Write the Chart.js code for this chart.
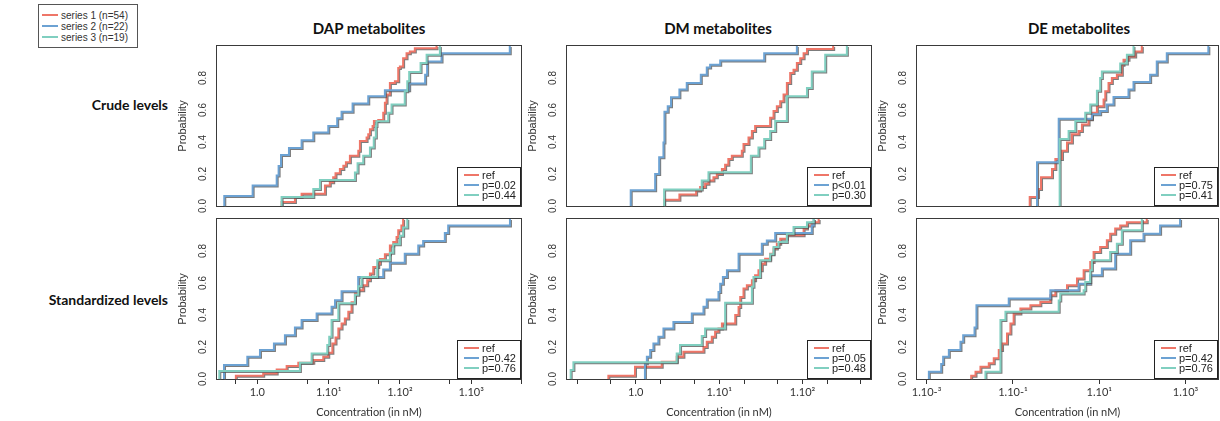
<!DOCTYPE html>
<html><head><meta charset="utf-8">
<script src="https://cdn.jsdelivr.net/npm/chart.js@4/dist/chart.umd.min.js"></script>
<style>
html,body{margin:0;padding:0;background:#fff}
body{width:1220px;height:421px;overflow:hidden;position:relative;font-family:Lato,sans-serif;color:#111}
.title{position:absolute;font-weight:bold;font-size:15px;line-height:16px;transform:translateX(-50%);white-space:nowrap}
.rowlab{position:absolute;left:0;width:168px;text-align:right;font-weight:bold;font-size:14px;line-height:16px;white-space:nowrap}
#topLegend{position:absolute;left:38px;top:4px;width:98px;height:42px;border:1px solid #555;font-family:"Liberation Sans",Arial,sans-serif;font-size:10px;color:#333}
#topLegend .row{position:absolute;left:3px;height:11px;line-height:11px;white-space:nowrap}
#topLegend .sw{display:inline-block;width:16px;height:2px;vertical-align:middle;margin-right:3px;position:relative;top:-1px}
canvas{position:absolute}
</style></head><body>
<div id="topLegend"></div>
<script>
// ---------- text ----------
const columnTitles = ['DAP metabolites', 'DM metabolites', 'DE metabolites'];
const rowLabels = ['Crude levels', 'Standardized levels'];
const seriesNames = ['series 1 (n=54)', 'series 2 (n=22)', 'series 3 (n=19)'];
const yAxisTitle = 'Probability';
const xAxisTitle = 'Concentration (in nM)';
const yTickValues = [0, 0.2, 0.4, 0.6, 0.8];
const yTickLabels = ['0.0', '0.2', '0.4', '0.6', '0.8'];

// ---------- x tick values / labels per column ----------
const dapTickValues = [0.5, 1, 5, 10, 50, 100, 500, 1000, 5000];
const dapTickLabels = ['', '1.0', '', '1.10¹', '', '1.10²', '', '1.10³', ''];
const dmTickValues = [0.2, 0.5, 1, 2, 5, 10, 20, 50, 100, 200, 500];
const dmTickLabels = ['', '', '1.0', '', '', '1.10¹', '', '', '1.10²', '', ''];
const deTickValues = [0.001, 0.1, 10, 1000];
const deTickLabels = ['1.10-³', '1.10-¹', '1.10¹', '1.10³'];

// ---------- in-panel legends ----------
const dapCrudeLegend = ['ref', 'p=0.02', 'p=0.44'];
const dmCrudeLegend = ['ref', 'p<0.01', 'p=0.30'];
const deCrudeLegend = ['ref', 'p=0.75', 'p=0.41'];
const dapStdLegend = ['ref', 'p=0.42', 'p=0.76'];
const dmStdLegend = ['ref', 'p=0.05', 'p=0.48'];
const deStdLegend = ['ref', 'p=0.42', 'p=0.76'];

// ---------- ECDF data (concentration in nM, cumulative probability after the step) ----------
// DAP crude
const dapCrudeRefX = [2.19, 3.37, 4.18, 8.89, 10.4, 11.6, 12.5, 14.4, 16.1, 17.5, 19.9, 26.1, 27.5, 34.1, 36.0, 38.0, 41.4, 43.2, 49.7, 58.4, 61.6, 65.0, 72.4, 85.1, 94.8, 100, 111, 124, 138, 162, 327];
const dapCrudeRefY = [0.025, 0.056, 0.076, 0.128, 0.149, 0.18, 0.205, 0.232, 0.252, 0.273, 0.314, 0.345, 0.407, 0.428, 0.449, 0.48, 0.50, 0.531, 0.537, 0.583, 0.645, 0.697, 0.769, 0.779, 0.862, 0.872, 0.924, 0.955, 0.965, 0.986, 1.0];
const dapCrudeS2X = [0.344, 0.86, 1.87, 1.99, 2.15, 2.78, 4.18, 6.1, 9.9, 13.2, 15.2, 21.7, 36, 61.6, 135, 226, 241, 384, 3480];
const dapCrudeS2Y = [0.062, 0.128, 0.19, 0.25, 0.318, 0.362, 0.411, 0.459, 0.50, 0.548, 0.589, 0.641, 0.686, 0.724, 0.765, 0.82, 0.903, 0.955, 1.0];
const dapCrudeS3X = [2.19, 6.1, 7.56, 23.4, 25.5, 30.6, 38, 43, 46, 47, 68.6, 76.4, 117, 127, 135, 195, 237, 364];
const dapCrudeS3Y = [0.056, 0.107, 0.163, 0.21, 0.267, 0.314, 0.366, 0.428, 0.50, 0.53, 0.583, 0.635, 0.717, 0.78, 0.837, 0.893, 0.945, 1.0];
// DAP standardized
const dapStdRefX = [0.50, 1.21, 1.87, 2.58, 3.76, 6.1, 8.42, 9.89, 11.3, 12.5, 13.7, 15.2, 16.9, 18.9, 21.0, 23.4, 26.1, 30.6, 34.8, 38.0, 42.3, 49.7, 52.5, 61.6, 72.4, 80.7, 89.8, 94.8, 105, 111];
const dapStdRefY = [0.021, 0.035, 0.06, 0.081, 0.102, 0.118, 0.139, 0.164, 0.222, 0.26, 0.316, 0.347, 0.378, 0.42, 0.48, 0.534, 0.555, 0.586, 0.617, 0.659, 0.70, 0.72, 0.75, 0.78, 0.835, 0.856, 0.887, 0.929, 0.96, 1.0];
const dapStdS2X = [0.341, 0.724, 1.09, 1.71, 2.44, 3.37, 4.18, 6.79, 11.0, 12.3, 15.2, 26.0, 58.4, 72.4, 117, 181, 212, 427, 476, 3500];
const dapStdS2Y = [0.087, 0.139, 0.181, 0.222, 0.274, 0.322, 0.368, 0.409, 0.451, 0.492, 0.549, 0.638, 0.684, 0.727, 0.783, 0.835, 0.862, 0.912, 0.96, 1.0];
const dapStdS3X = [0.293, 3.96, 5.78, 9.58, 10.2, 11.0, 13.7, 23.4, 26.1, 29.0, 48.1, 72.4, 80.7, 100, 111, 127];
const dapStdS3Y = [0.05, 0.102, 0.16, 0.212, 0.264, 0.368, 0.474, 0.526, 0.579, 0.638, 0.742, 0.789, 0.842, 0.895, 0.947, 1.0];
// DM crude
const dmCrudeRefX = [2.19, 3.34, 5.30, 5.92, 6.79, 7.45, 8.55, 9.38, 10.8, 11.8, 12.9, 14.2, 18.7, 19.6, 22.5, 24.7, 27.0, 40.9, 44.9, 49.2, 54.0, 59.2, 64.9, 71.1, 78.0, 85.5, 93.8, 103, 113, 233];
const dmCrudeRefY = [0.039, 0.072, 0.097, 0.118, 0.139, 0.159, 0.18, 0.2, 0.232, 0.258, 0.294, 0.314, 0.345, 0.387, 0.428, 0.469, 0.50, 0.552, 0.593, 0.624, 0.655, 0.697, 0.769, 0.831, 0.852, 0.893, 0.924, 0.955, 0.982, 1.0];
const dmCrudeS2X = [0.871, 1.71, 1.91, 2.15, 2.21, 2.42, 2.65, 3.34, 4.09, 6.03, 7.11, 7.8, 10.3, 34.7, 85.5];
const dmCrudeS2Y = [0.099, 0.2, 0.304, 0.397, 0.589, 0.624, 0.68, 0.728, 0.769, 0.82, 0.866, 0.883, 0.91, 0.955, 1.0];
const dmCrudeS3X = [2.19, 6.19, 7.45, 24.0, 29.6, 34.7, 40.9, 47.0, 64.9, 113, 129, 187, 340];
const dmCrudeS3Y = [0.103, 0.159, 0.211, 0.314, 0.366, 0.418, 0.469, 0.531, 0.686, 0.738, 0.841, 0.945, 1.0];
// DM standardized
const dmStdRefX = [0.47, 0.98, 2.05, 3.10, 3.73, 6.49, 7.11, 8.17, 8.95, 9.82, 10.8, 15.6, 17.1, 17.9, 19.6, 21.5, 24.7, 27.0, 29.6, 32.5, 35.6, 40.9, 44.9, 49.2, 54.0, 64.9, 103, 113, 129, 156];
const dmStdRefY = [0.021, 0.077, 0.108, 0.139, 0.17, 0.2, 0.233, 0.264, 0.295, 0.316, 0.347, 0.40, 0.45, 0.513, 0.565, 0.586, 0.617, 0.648, 0.68, 0.72, 0.752, 0.783, 0.815, 0.846, 0.877, 0.898, 0.94, 0.96, 0.98, 1.0];
const dmStdS2X = [1.29, 1.36, 1.49, 1.63, 1.87, 2.15, 2.83, 4.70, 6.49, 7.11, 9.82, 10.3, 11.1, 12.4, 17.1, 32.5, 37.3, 47.0, 129, 136];
const dmStdS2Y = [0.098, 0.139, 0.181, 0.222, 0.264, 0.316, 0.357, 0.409, 0.451, 0.497, 0.544, 0.596, 0.638, 0.679, 0.783, 0.846, 0.866, 0.912, 0.96, 1.0];
const dmStdS3X = [0.166, 0.179, 3.10, 3.40, 6.19, 6.79, 11.8, 24.7, 25.8, 31.0, 40.9, 44.9, 51.5, 64.9, 78.0, 113, 136];
const dmStdS3Y = [0.056, 0.104, 0.16, 0.212, 0.268, 0.316, 0.476, 0.576, 0.638, 0.742, 0.78, 0.825, 0.856, 0.908, 0.95, 0.98, 1.0];
// DE crude
const deCrudeRefX = [0.245, 0.382, 0.448, 0.805, 0.962, 1.37, 1.79, 2.33, 3.33, 3.97, 5.66, 6.76, 8.83, 12.6, 13.8, 16.4, 19.6, 25.6, 33.4, 36.5, 47.6, 68, 96.8];
const deCrudeRefY = [0.056, 0.107, 0.18, 0.232, 0.294, 0.345, 0.397, 0.449, 0.469, 0.51, 0.542, 0.583, 0.624, 0.666, 0.717, 0.769, 0.80, 0.82, 0.883, 0.914, 0.934, 0.965, 1.0];
const deCrudeS2X = [0.362, 1.15, 6.76, 10.5, 15.0, 21.4, 47.6, 62.2, 151, 215, 367, 3370];
const deCrudeS2Y = [0.273, 0.546, 0.573, 0.593, 0.635, 0.682, 0.728, 0.775, 0.82, 0.903, 0.955, 1.0];
const deCrudeS3X = [1.21, 1.95, 2.79, 4.74, 6.19, 8.83, 10.5, 11.5, 30.6, 43.7, 62.2];
const deCrudeS3Y = [0.418, 0.469, 0.531, 0.583, 0.635, 0.72, 0.80, 0.841, 0.89, 0.945, 1.0];
// DE standardized
const deStdRefX = [0.0108, 0.0136, 0.0177, 0.0276, 0.036, 0.047, 0.056, 0.073, 0.0875, 0.104, 0.149, 0.254, 0.432, 0.736, 0.962, 1.79, 3.05, 4.35, 6.19, 7.4, 10.5, 15.0, 17.9, 23.4, 30.6, 43.7, 126];
const deStdRefY = [0.021, 0.046, 0.077, 0.098, 0.129, 0.181, 0.222, 0.285, 0.347, 0.409, 0.44, 0.461, 0.482, 0.524, 0.555, 0.586, 0.628, 0.68, 0.731, 0.794, 0.825, 0.867, 0.908, 0.94, 0.96, 0.98, 1.0];
const deStdS2X = [0.00113, 0.00218, 0.00242, 0.00328, 0.0061, 0.00705, 0.0129, 0.0143, 0.080, 0.736, 3.33, 6.19, 11.5, 23.4, 52.1, 106, 257, 746];
const deStdS2Y = [0.046, 0.094, 0.139, 0.181, 0.233, 0.274, 0.322, 0.461, 0.503, 0.555, 0.596, 0.648, 0.69, 0.783, 0.867, 0.908, 0.96, 1.0];
const deStdS3X = [0.0231, 0.0514, 0.0671, 1.15, 1.25, 4.35, 4.74, 6.19, 6.76, 17.9, 25.6, 33.4, 97];
const deStdS3Y = [0.046, 0.368, 0.42, 0.49, 0.534, 0.555, 0.607, 0.68, 0.742, 0.794, 0.846, 0.929, 1.0];

// ---------- layout / style ----------
const COLORS = ['#EE7668', '#6CA2D3', '#80CFC0'];
const COLS = [
  { L: 217, R: 521, min: 0.272, max: 5000, ticks: dapTickValues, labels: dapTickLabels, titleX: 369 },
  { L: 567, R: 871, min: 0.15, max: 662, ticks: dmTickValues, labels: dmTickLabels, titleX: 718 },
  { L: 917, R: 1218, min: 0.00062, max: 5640, ticks: deTickValues, labels: deTickLabels, titleX: 1079 }
];
const ROWS = [
  { T: 46, B: 206, axis: false, labelY: 105 },
  { T: 219, B: 379, axis: true, labelY: 300 }
];
const PANELS = [
  { col: 0, row: 0, legend: dapCrudeLegend, series: [[dapCrudeRefX, dapCrudeRefY], [dapCrudeS2X, dapCrudeS2Y], [dapCrudeS3X, dapCrudeS3Y]] },
  { col: 1, row: 0, legend: dmCrudeLegend, series: [[dmCrudeRefX, dmCrudeRefY], [dmCrudeS2X, dmCrudeS2Y], [dmCrudeS3X, dmCrudeS3Y]] },
  { col: 2, row: 0, legend: deCrudeLegend, series: [[deCrudeRefX, deCrudeRefY], [deCrudeS2X, deCrudeS2Y], [deCrudeS3X, deCrudeS3Y]] },
  { col: 0, row: 1, legend: dapStdLegend, series: [[dapStdRefX, dapStdRefY], [dapStdS2X, dapStdS2Y], [dapStdS3X, dapStdS3Y]] },
  { col: 1, row: 1, legend: dmStdLegend, series: [[dmStdRefX, dmStdRefY], [dmStdS2X, dmStdS2Y], [dmStdS3X, dmStdS3Y]] },
  { col: 2, row: 1, legend: deStdLegend, series: [[deStdRefX, deStdRefY], [deStdS2X, deStdS2Y], [deStdS3X, deStdS3Y]] }
];

// ---------- static text ----------
columnTitles.forEach((t, i) => {
  const d = document.createElement('div');
  d.className = 'title'; d.textContent = t;
  d.style.left = COLS[i].titleX + 'px'; d.style.top = '20px';
  document.body.appendChild(d);
});
rowLabels.forEach((t, i) => {
  const d = document.createElement('div');
  d.className = 'rowlab'; d.textContent = t;
  d.style.top = (ROWS[i].labelY - 8) + 'px';
  document.body.appendChild(d);
});
const tl = document.getElementById('topLegend');
seriesNames.forEach((t, i) => {
  const r = document.createElement('div');
  r.className = 'row'; r.style.top = (5 + i * 11) + 'px';
  const sw = document.createElement('span'); sw.className = 'sw'; sw.style.background = COLORS[i];
  r.appendChild(sw); r.appendChild(document.createTextNode(t));
  tl.appendChild(r);
});

// ---------- helpers ----------
function stepPoints(xs, ys) {
  const pts = [{ x: xs[0], y: 0 }];
  xs.forEach((x, i) => pts.push({ x: x, y: ys[i] }));
  return pts;
}
function labelFor(col, v) {
  const i = col.ticks.findIndex(t => Math.abs(Math.log10(t) - Math.log10(v)) < 1e-6);
  return i >= 0 ? col.labels[i] : '';
}

const decoPlugin = {
  id: 'deco',
  beforeDatasetsDraw(chart) {
    const { ctx, chartArea: a } = chart;
    ctx.save();
    ctx.strokeStyle = '#3a3a3a'; ctx.lineWidth = 1;
    ctx.strokeRect(a.left - 0.5, a.top - 0.5, a.right - a.left + 1, a.bottom - a.top + 1);
    ctx.restore();
  },
  beforeDatasetDraw(chart) {
    const ctx = chart.ctx;
    ctx.save();
    ctx.shadowColor = 'rgba(80,80,80,0.75)';
    ctx.shadowOffsetX = 1; ctx.shadowOffsetY = 1; ctx.shadowBlur = 0;
  },
  afterDatasetDraw(chart) { chart.ctx.restore(); },
  afterDatasetsDraw(chart, args, o) {
    const { ctx, chartArea: a } = chart;
    const ys = chart.scales.y;
    ctx.save();
    // y tick labels (rotated, R style)
    ctx.fillStyle = '#333';
    ctx.font = '10px "Liberation Sans", Arial, sans-serif';
    ctx.textAlign = 'center'; ctx.textBaseline = 'middle';
    yTickValues.forEach((v, i) => {
      const y = ys.getPixelForValue(v);
      ctx.save(); ctx.translate(a.left - 14, y); ctx.rotate(-Math.PI / 2);
      ctx.fillText(yTickLabels[i], 0, 0); ctx.restore();
    });
    ctx.font = '11px "Liberation Sans", Arial, sans-serif';
    ctx.save(); ctx.translate(a.left - 34, (a.top + a.bottom) / 2); ctx.rotate(-Math.PI / 2);
    ctx.fillText(yAxisTitle, 0, 0); ctx.restore();
    // x axis title
    if (o.xTitle) {
      ctx.font = '11px Lato, sans-serif';
      ctx.fillText(xAxisTitle, (a.left + a.right) / 2, a.bottom + 33);
    }
    // in-panel legend
    const R = a.right, B = a.bottom;
    ctx.fillStyle = '#fff';
    ctx.fillRect(R - 63, B - 39, 63, 39);
    ctx.strokeStyle = '#222'; ctx.lineWidth = 1;
    ctx.strokeRect(R - 63.5, B - 38.5, 63, 38);
    ctx.font = '11px "Liberation Sans", Arial, sans-serif';
    ctx.textAlign = 'left';
    o.legend.forEach((t, i) => {
      const y = B - 31 + i * 10;
      ctx.strokeStyle = COLORS[i]; ctx.lineWidth = 2;
      ctx.beginPath(); ctx.moveTo(R - 57, y); ctx.lineTo(R - 42, y); ctx.stroke();
      ctx.fillStyle = '#222';
      ctx.fillText(t, R - 39, y + 0.5);
    });
    ctx.restore();
  }
};

// ---------- charts ----------
PANELS.forEach(p => {
  const col = COLS[p.col], row = ROWS[p.row];
  const Hx = row.axis ? 42 : 10;
  const W = col.R - col.L + 55, H = row.B - row.T + 5 + Hx;
  const cv = document.createElement('canvas');
  cv.width = W; cv.height = H;
  cv.style.left = (col.L - 50) + 'px'; cv.style.top = (row.T - 5) + 'px';
  cv.style.width = W + 'px'; cv.style.height = H + 'px';
  document.body.appendChild(cv);
  new Chart(cv, {
    type: 'line',
    data: {
      datasets: p.series.map((s, i) => ({
        label: p.legend[i],
        data: stepPoints(s[0], s[1]),
        borderColor: COLORS[i],
        backgroundColor: COLORS[i],
        borderWidth: 2,
        stepped: 'before',
        pointRadius: 0,
        fill: false,
        order: 3 - i,
        clip: 4
      }))
    },
    options: {
      responsive: false, animation: false, devicePixelRatio: 1, events: [],
      layout: { padding: { left: 0, top: 5, right: 5, bottom: 0 } },
      plugins: { legend: { display: false }, tooltip: { enabled: false }, deco: { legend: p.legend, xTitle: row.axis } },
      scales: {
        x: {
          type: 'logarithmic', min: col.min, max: col.max,
          afterBuildTicks: s => { s.ticks = col.ticks.map(v => ({ value: v })); },
          afterFit: s => { s.height = Hx; },
          ticks: {
            display: row.axis, autoSkip: false, maxRotation: 0, minRotation: 0, padding: 2,
            color: '#333', font: { family: 'Lato', size: 11 },
            callback: v => labelFor(col, v)
          },
          grid: { display: row.axis, drawOnChartArea: false, drawTicks: true, tickLength: 5, color: '#333', tickColor: '#333' },
          border: { display: false }
        },
        y: {
          type: 'linear', min: 0, max: 1,
          afterFit: s => { s.width = 50; },
          ticks: { display: false }, grid: { display: false }, border: { display: false }
        }
      }
    },
    plugins: [decoPlugin]
  });
});
</script>
</body></html>
